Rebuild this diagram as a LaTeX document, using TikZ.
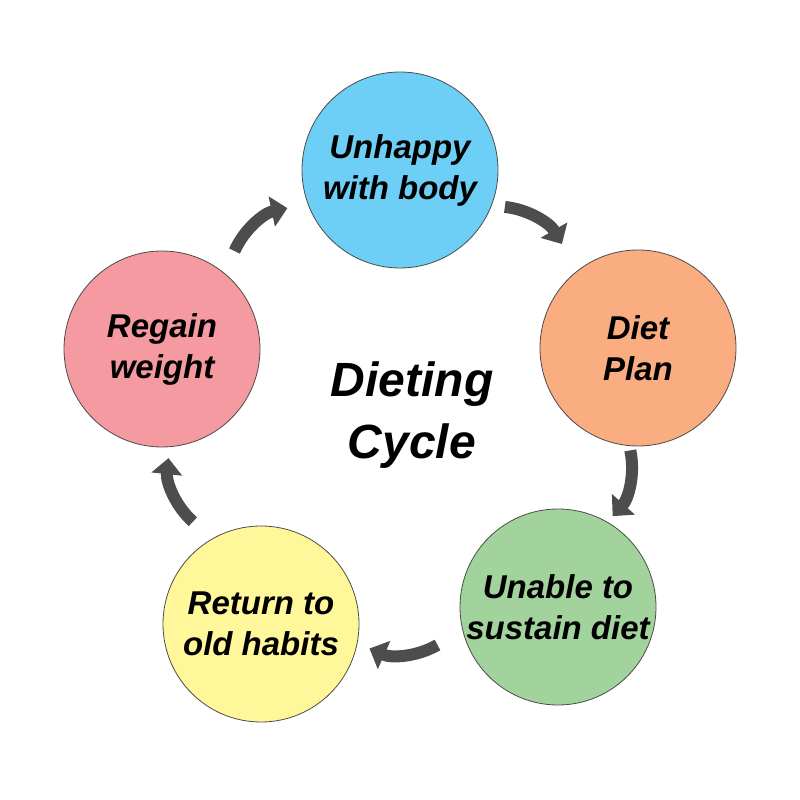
\documentclass[tikz,border=0pt]{standalone}
\usepackage{fontspec}
\setmainfont{Liberation Sans}
\usetikzlibrary{arrows.meta}
\definecolor{cA}{HTML}{6DCFF6}
\definecolor{cB}{HTML}{F9AD81}
\definecolor{cC}{HTML}{A3D39C}
\definecolor{cD}{HTML}{FFF799}
\definecolor{cE}{HTML}{F49AA0}
\definecolor{arr}{HTML}{4D4D4D}
\tikzset{
 stage/.style={circle,draw=black!70,line width=0.8pt,minimum size=196pt,inner sep=0pt,align=center,font=\fontsize{33}{41}\selectfont\bfseries\itshape},
 cyc/.style={arr,line width=12pt,-{Triangle[length=16pt,width=30pt]}}
}
\begin{document}
\begin{tikzpicture}[x=1pt,y=1pt]
\useasboundingbox (0,0) rectangle (800,800);
\coordinate (c) at (400,385);
\node[stage,fill=cA] (a) at (400,630) {Unhappy\\with body};
\node[stage,fill=cB] (b) at (638,452) {Diet\\Plan};
\node[stage,fill=cC] (d) at (558,193) {Unable to\\sustain diet};
\node[stage,fill=cD] (e) at (261,176) {Return to\\old habits};
\node[stage,fill=cE] (f) at (162,451) {Regain\\weight};
\node[align=center,font=\fontsize{48}{62}\selectfont\bfseries\itshape] (t) at (412,385) {Dieting\\Cycle};
\foreach \m in {54,-18,-90,-162,126}{
 \draw[cyc] ([shift={(c)}]\m:165) ++(\m+30:75) arc[start angle=\m+30,end angle=\m-24,radius=75];
}
\end{tikzpicture}
\end{document}
